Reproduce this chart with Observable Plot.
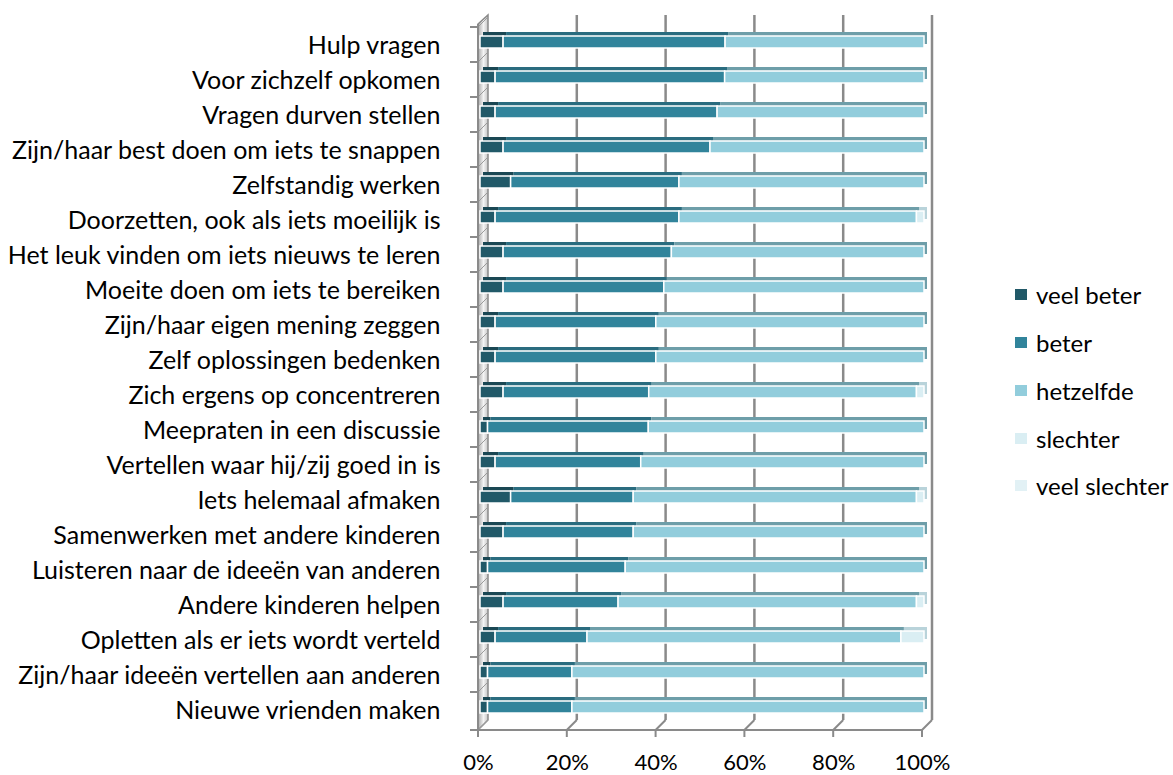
<!DOCTYPE html>
<html>
<head>
<meta charset="utf-8">
<script src="https://cdn.jsdelivr.net/npm/d3@7"></script>
<script src="https://cdn.jsdelivr.net/npm/@observablehq/plot@0.6"></script>
<style>
  html, body { margin: 0; padding: 0; background: #fff; }
  #wrap { position: relative; width: 1173px; height: 775px; font-family: Lato, "Open Sans", sans-serif; }
  #legend { position: absolute; left: 1015px; top: 271px; }
  .item { display: flex; align-items: center; height: 47.75px; font-size: 24px; color: #000; white-space: nowrap; }
  .sw { width: 12px; height: 11px; margin-right: 9px; }
</style>
</head>
<body>
<div id="wrap"><div id="legend"></div></div>
<script>
const categories = [
  "Hulp vragen",
  "Voor zichzelf opkomen",
  "Vragen durven stellen",
  "Zijn/haar best doen om iets te snappen",
  "Zelfstandig werken",
  "Doorzetten, ook als iets moeilijk is",
  "Het leuk vinden om iets nieuws te leren",
  "Moeite doen om iets te bereiken",
  "Zijn/haar eigen mening zeggen",
  "Zelf oplossingen bedenken",
  "Zich ergens op concentreren",
  "Meepraten in een discussie",
  "Vertellen waar hij/zij goed in is",
  "Iets helemaal afmaken",
  "Samenwerken met andere kinderen",
  "Luisteren naar de ideeën van anderen",
  "Andere kinderen helpen",
  "Opletten als er iets wordt verteld",
  "Zijn/haar ideeën vertellen aan anderen",
  "Nieuwe vrienden maken"
];
const series = ["veel beter", "beter", "hetzelfde", "slechter", "veel slechter"];
const veelBeter    = [5.2, 3.4, 3.4, 5.2, 6.9, 3.4, 5.2, 5.2, 3.4, 3.4, 5.2, 1.7, 3.4, 6.9, 5.2, 1.7, 5.2, 3.4, 1.7, 1.7];
const beter        = [50.0, 51.7, 50.0, 46.6, 37.9, 41.4, 37.9, 36.2, 36.2, 36.2, 32.8, 36.2, 32.8, 27.6, 29.3, 31.0, 25.9, 20.7, 19.0, 19.0];
const hetzelfde    = [44.8, 44.9, 46.6, 48.2, 55.2, 53.5, 56.9, 58.6, 60.4, 60.4, 60.3, 62.1, 63.8, 63.8, 65.5, 67.3, 67.2, 70.7, 79.3, 79.3];
const slechter     = [0, 0, 0, 0, 0, 1.7, 0, 0, 0, 0, 1.7, 0, 0, 1.7, 0, 0, 1.7, 5.2, 0, 0];
const veelSlechter = [0, 0, 0, 0, 0, 0, 0, 0, 0, 0, 0, 0, 0, 0, 0, 0, 0, 0, 0, 0];
const xTicks = [0, 20, 40, 60, 80, 100];
const xTickLabels = ["0%", "20%", "40%", "60%", "80%", "100%"];

const colors    = ["#215968", "#31849B", "#92CDDC", "#DAEEF3", "#E2F1F5"];
const topColors = ["#1a4753", "#2a6c7f", "#6e9ea9", "#b9d3da", "#c4dbe1"];

const seriesValues = [veelBeter, beter, hetzelfde, slechter, veelSlechter];
const rows = [];
categories.forEach((c, i) => {
  let acc = 0;
  series.forEach((s, j) => {
    const v = seriesValues[j][i];
    rows.push({category: c, series: s, value: v, x1: acc, x2: acc + v});
    acc += v;
  });
});

function deco(index, scales, values, dims) {
  const x = scales.x, y = scales.y;
  const yb = dims.height - dims.marginBottom;
  const d = 10, top = 15;
  const x0 = x(0), x100 = x(100);
  const g = d3.create("svg:g");
  const grad = g.append("defs").append("linearGradient")
    .attr("id", "wallgrad").attr("x1", "0").attr("x2", "1").attr("y1", "0").attr("y2", "0");
  grad.append("stop").attr("offset", "0").attr("stop-color", "#a8a8a8");
  grad.append("stop").attr("offset", "0.55").attr("stop-color", "#f4f4f4");
  grad.append("stop").attr("offset", "1").attr("stop-color", "#c4c4c4");
  const gray = "#8a8a8a";
  for (const v of xTicks.slice(1)) {
    g.append("line").attr("x1", x(v) + d).attr("x2", x(v) + d).attr("y1", top).attr("y2", yb - d)
      .attr("stroke", gray).attr("stroke-width", 2.5);
    g.append("line").attr("x1", x(v)).attr("y1", yb).attr("x2", x(v) + d).attr("y2", yb - d)
      .attr("stroke", gray).attr("stroke-width", 2);
  }
  g.append("polygon")
    .attr("points", [[x0, yb], [x0, top + d - 1], [x0 + d, top], [x0 + d, yb - d]].map(p => p.join(",")).join(" "))
    .attr("fill", "url(#wallgrad)").attr("stroke", gray).attr("stroke-width", 1.5);
  const bounds = categories.map(c => y(c)).concat([yb]);
  for (const b of bounds) {
    g.append("line").attr("x1", x0).attr("y1", b).attr("x2", x0 + d).attr("y2", b - d)
      .attr("stroke", "#9a9a9a").attr("stroke-width", 1);
    g.append("line").attr("x1", x0 - 8).attr("x2", x0).attr("y1", b).attr("y2", b)
      .attr("stroke", gray).attr("stroke-width", 2);
  }
  g.append("line").attr("x1", x0).attr("x2", x0).attr("y1", top + d - 1).attr("y2", yb)
    .attr("stroke", gray).attr("stroke-width", 2);
  g.append("line").attr("x1", x0).attr("x2", x100).attr("y1", yb).attr("y2", yb)
    .attr("stroke", gray).attr("stroke-width", 2);
  for (const v of xTicks) {
    g.append("line").attr("x1", x(v)).attr("x2", x(v)).attr("y1", yb).attr("y2", yb + 7)
      .attr("stroke", gray).attr("stroke-width", 2);
  }
  return g.node();
}

const backMarks = series.map((s, j) => Plot.barX(rows.filter(r => r.series === s && r.value > 0), {
  x1: "x1", x2: "x2", y: "category", fill: topColors[j],
  insetTop: 9, insetBottom: 14, dx: 5, dy: -4
}));
const frontMarks = series.map((s, j) => Plot.barX(rows.filter(r => r.series === s && r.value > 0), {
  x1: "x1", x2: "x2", y: "category", fill: colors[j],
  stroke: "#ffffff", strokeWidth: 1.5,
  insetTop: 9, insetBottom: 14, dx: 2
}));

const chart = Plot.plot({
  width: 1173,
  height: 775,
  marginLeft: 478,
  marginRight: 251,
  marginTop: 24,
  marginBottom: 45,
  x: {domain: [0, 100], axis: null},
  y: {domain: categories, padding: 0, axis: null},
  style: {fontFamily: "Lato, 'Open Sans', sans-serif", background: "#fff", color: "#000", overflow: "visible"},
  marks: [
    deco,
    ...backMarks,
    ...frontMarks,
    Plot.axisY(categories, {tickSize: 0, tickPadding: 38, fontSize: 25, fill: "#000", label: null, dy: 1}),
    Plot.axisX(xTicks, {tickSize: 0, tickPadding: 24, fontSize: 22, fill: "#000", label: null,
      tickFormat: (d) => xTickLabels[xTicks.indexOf(d)]})
  ]
});
document.getElementById("wrap").prepend(chart);

const legend = document.getElementById("legend");
series.forEach((s, j) => {
  const item = document.createElement("div");
  item.className = "item";
  const sw = document.createElement("span");
  sw.className = "sw";
  sw.style.background = colors[j];
  const t = document.createElement("span");
  t.textContent = s;
  item.append(sw, t);
  legend.append(item);
});
</script>
</body>
</html>
